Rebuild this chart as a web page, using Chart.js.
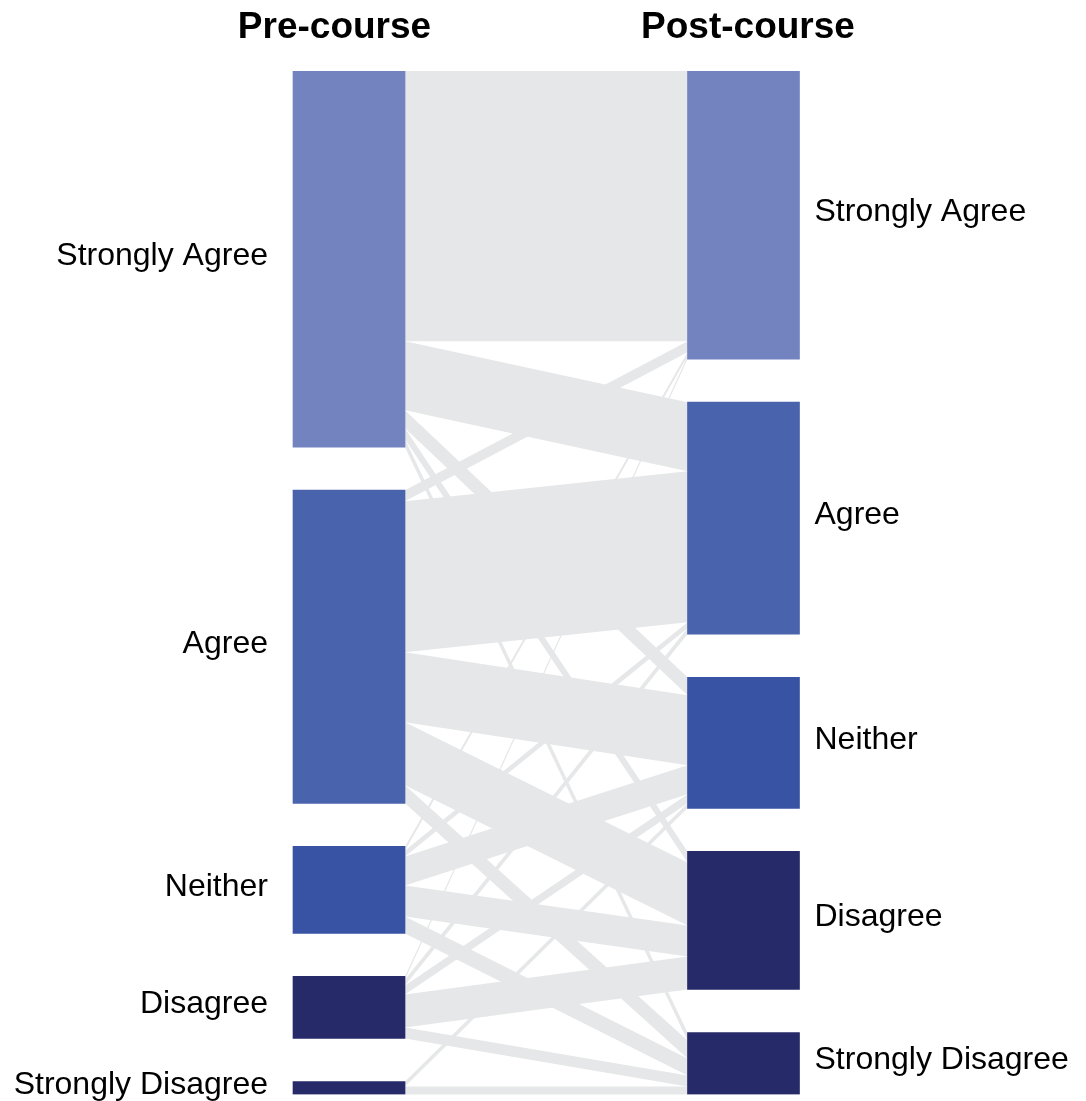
<!DOCTYPE html>
<html lang="en">
<head>
  <meta charset="UTF-8">
  <title>Pre-course vs Post-course</title>
  <style>
    body { margin: 0; background-color: white; }
    #chart { display: block; }
  </style>
</head>
<body>
  <canvas id="chart" width="1086" height="1101"></canvas>

  <script src="https://cdn.jsdelivr.net/npm/chart.js"></script>
  <script>
    // answer levels, same on both sides
    const levels = ['Strongly Agree', 'Agree', 'Neither', 'Disagree', 'Strongly Disagree'];
    const columns = ['Pre-course', 'Post-course'];

    // flows out of each pre-course answer, to post-course answers in the order of levels
    const fromStronglyAgree    = [270,  69, 18, 11,  8];
    const fromAgree            = [ 11, 151, 70, 63, 18];
    const fromNeither          = [  4,   6, 29, 31, 17];
    const fromDisagree         = [  3,   6,  9, 33, 11];
    const fromStronglyDisagree = [  0,   0,  5,  0,  8];

    const nodeColors = ['#7383c0', '#4a63ad', '#3953a4', '#272a69', '#272a69'];
    const flowColor = '#e6e7e8';
    const nodeGap = 43;
    const barWidth = 112;
    const titleShift = [-14.5, 4.5];

    const flows = [fromStronglyAgree, fromAgree, fromNeither, fromDisagree, fromStronglyDisagree];
    const preTotals = flows.map(row => row.reduce((a, b) => a + b, 0));
    const postTotals = levels.map((_, j) => flows.reduce((s, row) => s + row[j], 0));

    function stackRanges(totals) {
      let y = 0;
      return totals.map(t => { const r = [y, y + t]; y += t + nodeGap; return r; });
    }
    const preRanges = stackRanges(preTotals);
    const postRanges = stackRanges(postTotals);
    const yMax = Math.max(preRanges[4][1], postRanges[4][1]);

    // grey bands under the bars, then the labels and column titles
    const flowPlugin = {
      id: 'flows',
      beforeDatasetsDraw(chart) {
        const ctx = chart.ctx, xs = chart.scales.x, ys = chart.scales.y;
        const x0 = xs.getPixelForValue(0) + barWidth / 2;
        const x1 = xs.getPixelForValue(1) - barWidth / 2;
        const outY = preRanges.map(r => r[0]);
        const inY = postRanges.map(r => r[0]);
        ctx.save();
        ctx.fillStyle = flowColor;
        for (let i = 0; i < flows.length; i++) {
          for (let j = 0; j < levels.length; j++) {
            const v = flows[i][j];
            if (!v) continue;
            const a = outY[i], b = inY[j];
            outY[i] += v; inY[j] += v;
            ctx.beginPath();
            ctx.moveTo(x0, ys.getPixelForValue(a));
            ctx.lineTo(x1, ys.getPixelForValue(b));
            ctx.lineTo(x1, ys.getPixelForValue(b + v));
            ctx.lineTo(x0, ys.getPixelForValue(a + v));
            ctx.closePath();
            ctx.fill();
          }
        }
        ctx.restore();
      },
      afterDatasetsDraw(chart) {
        const ctx = chart.ctx, xs = chart.scales.x, ys = chart.scales.y;
        ctx.save();
        ctx.fillStyle = '#000';

        ctx.font = 'bold 37px "Liberation Sans", Arial, sans-serif';
        ctx.textAlign = 'center';
        ctx.textBaseline = 'alphabetic';
        columns.forEach((c, i) => {
          ctx.fillText(c, xs.getPixelForValue(i) + titleShift[i], chart.chartArea.top - 33);
        });

        ctx.font = '32px "Liberation Sans", Arial, sans-serif';
        ctx.textBaseline = 'middle';
        ctx.textAlign = 'right';
        const lx = xs.getPixelForValue(0) - barWidth / 2 - 25;
        levels.forEach((lab, i) => {
          ctx.fillText(lab, lx, ys.getPixelForValue((preRanges[i][0] + preRanges[i][1]) / 2) - 3);
        });
        ctx.textAlign = 'left';
        const rx = xs.getPixelForValue(1) + barWidth / 2 + 15;
        levels.forEach((lab, i) => {
          ctx.fillText(lab, rx, ys.getPixelForValue((postRanges[i][0] + postRanges[i][1]) / 2) - 3);
        });
        ctx.restore();
      }
    };

    const datasets = levels.map((lab, i) => ({
      label: lab,
      data: [preRanges[i], postRanges[i]],
      backgroundColor: nodeColors[i],
      barThickness: barWidth,
      grouped: false
    }));

    new Chart(document.getElementById('chart'), {
      type: 'bar',
      data: { labels: columns, datasets: datasets },
      options: {
        responsive: false,
        animation: false,
        layout: { padding: { left: 151.75, right: 145.25, top: 71, bottom: 6.5 } },
        plugins: { legend: { display: false }, tooltip: { enabled: false } },
        scales: {
          x: { display: false },
          y: { display: false, reverse: true, min: 0, max: yMax }
        }
      },
      plugins: [flowPlugin]
    });
  </script>
</body>
</html>
